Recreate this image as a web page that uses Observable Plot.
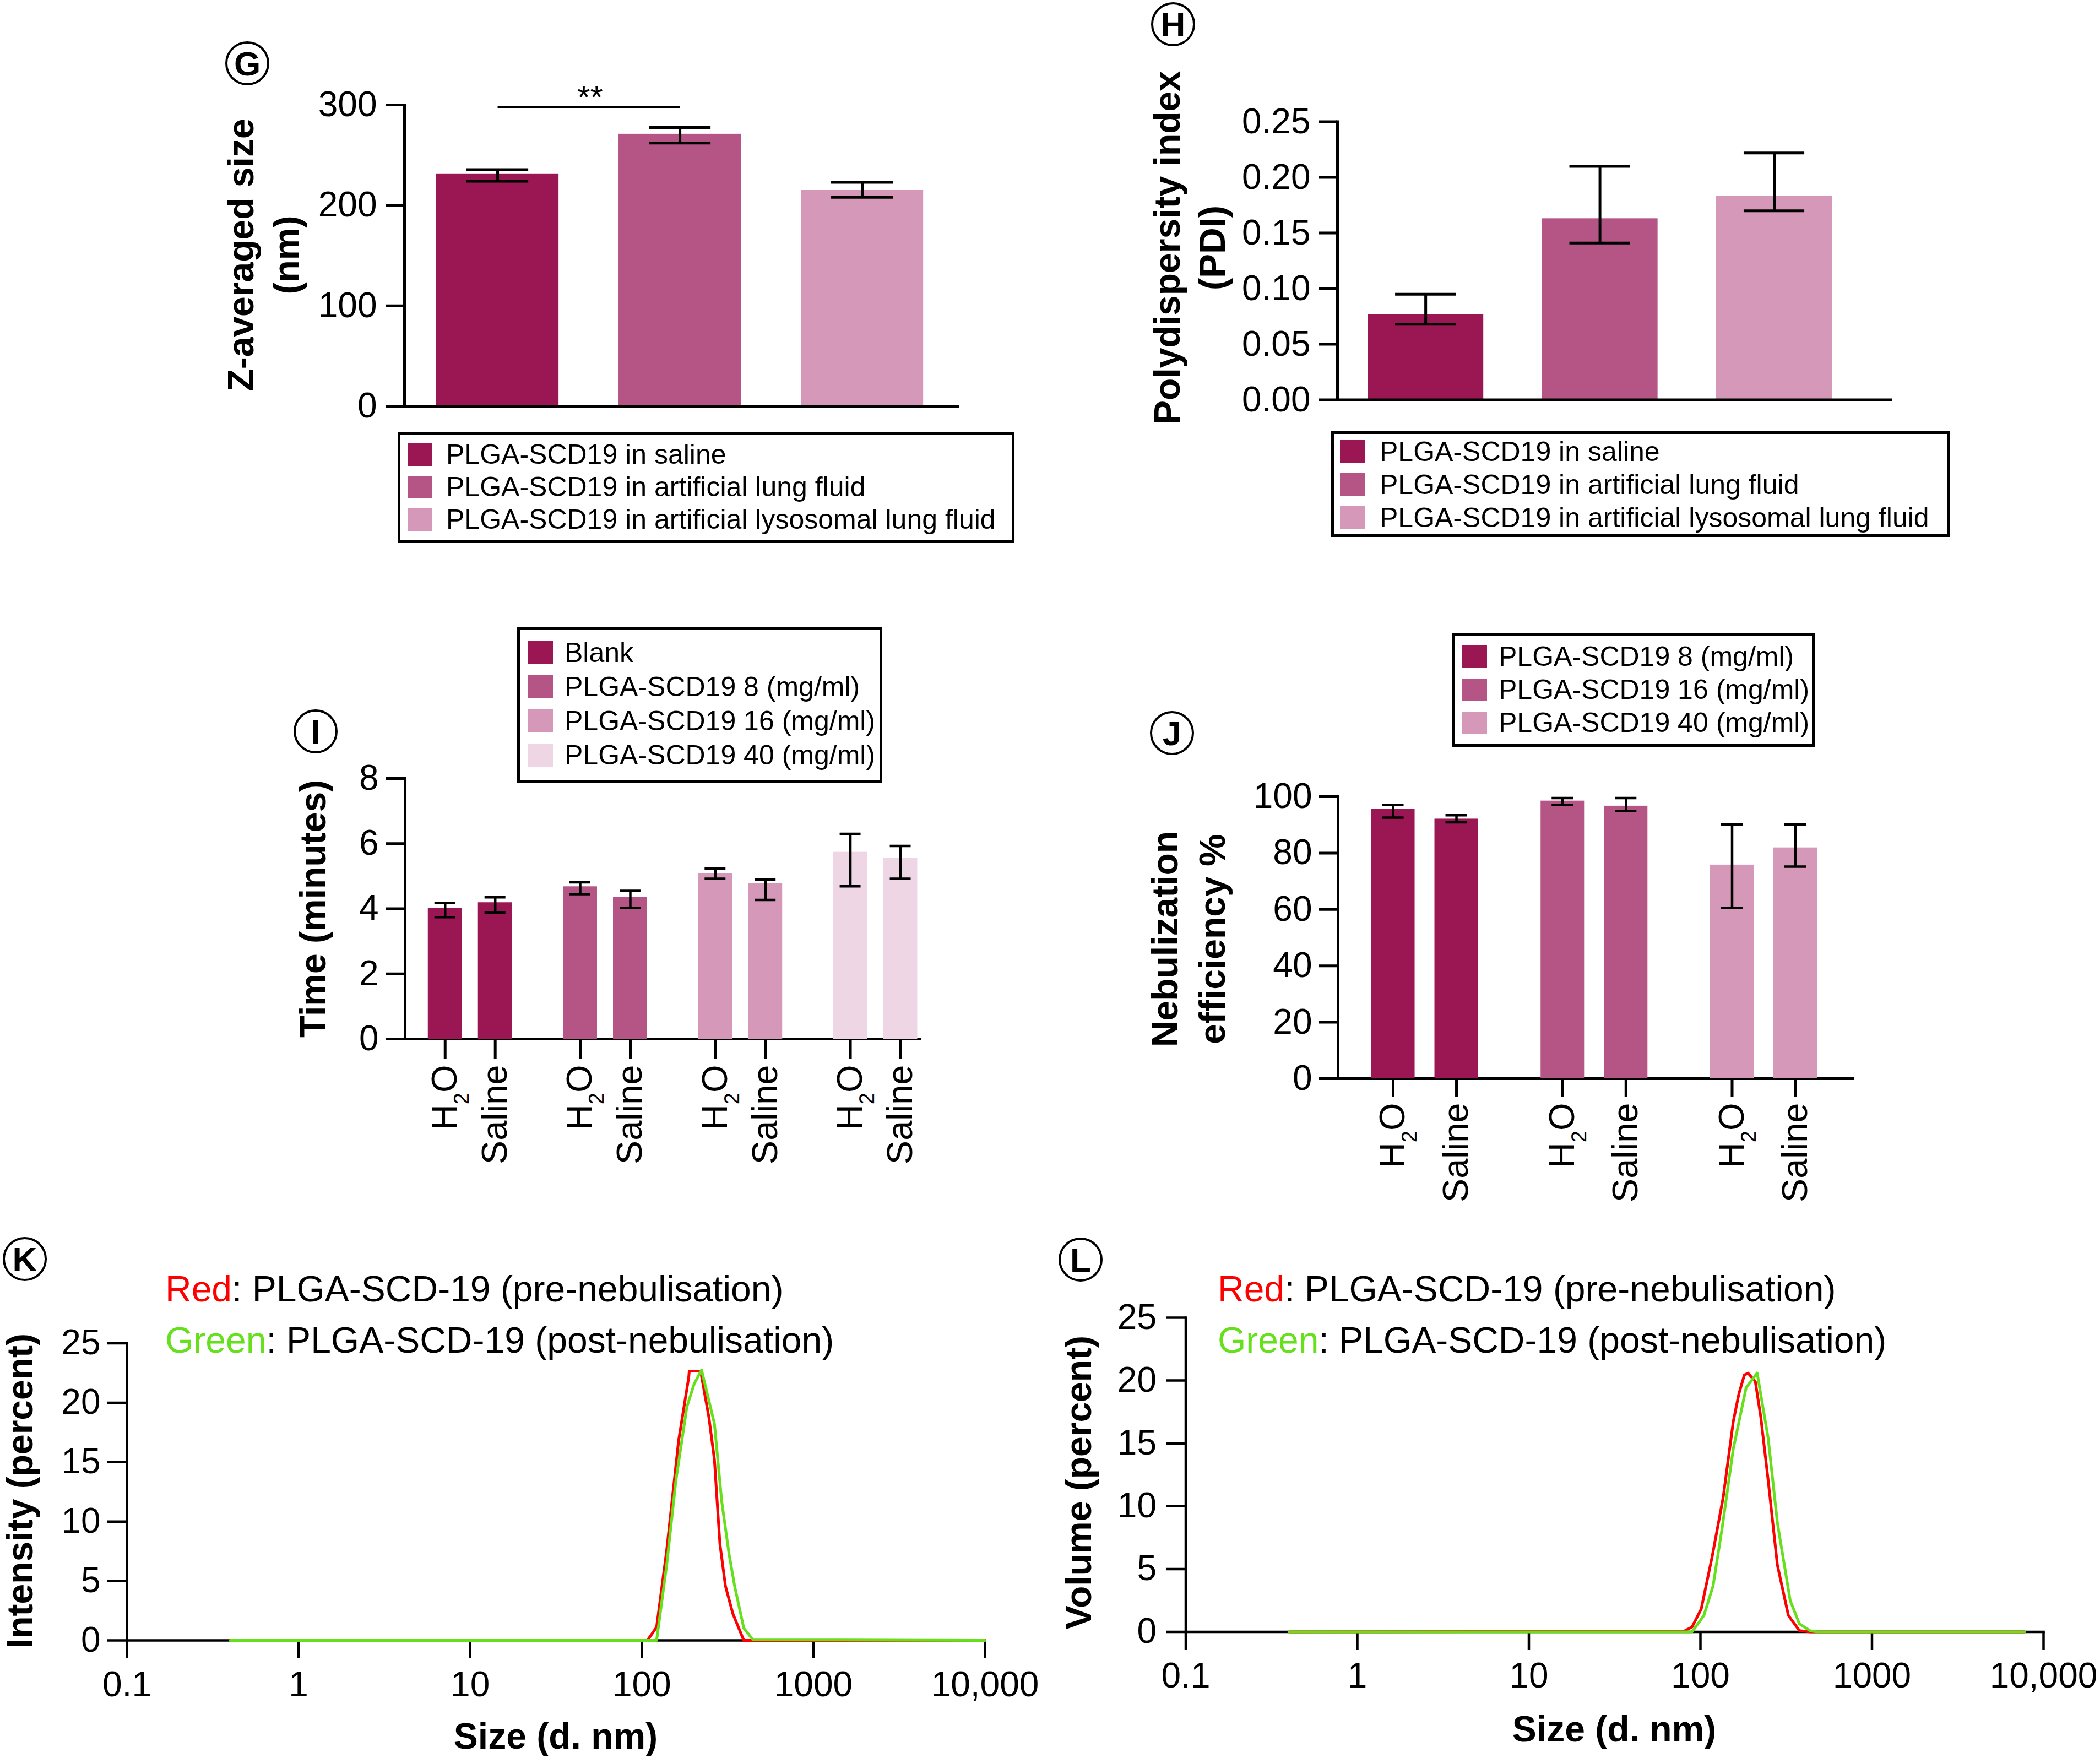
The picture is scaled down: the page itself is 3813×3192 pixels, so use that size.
<!DOCTYPE html>
<html>
<head>
<meta charset="utf-8">
<script src="https://cdn.jsdelivr.net/npm/d3@7"></script>
<script src="https://cdn.jsdelivr.net/npm/@observablehq/plot@0.6"></script>
<style>
html,body{margin:0;padding:0;background:#fff;overflow:hidden;}
#fig{position:relative;width:3813px;height:3192px;overflow:hidden;background:#fff;font-family:"Liberation Sans",Arial,Helvetica,sans-serif;color:#000;}
#fig svg{overflow:visible;}
.tag{position:absolute;box-sizing:border-box;border:4px solid #000;border-radius:50%;display:flex;align-items:center;justify-content:center;font-weight:bold;background:#fff;}
.legend{position:absolute;box-sizing:border-box;border:5px solid #000;background:#fff;}
.legend .row{position:absolute;display:flex;align-items:center;white-space:nowrap;}
.legend .sw{display:inline-block;flex:none;}
.title{position:absolute;font-weight:bold;white-space:nowrap;text-align:center;}
.note{position:absolute;white-space:nowrap;}
</style>
</head>
<body>
<div id="fig"></div>
<script>
// ---------------- data ----------------
const fluidGroups = ["PLGA-SCD19 in saline", "PLGA-SCD19 in artificial lung fluid", "PLGA-SCD19 in artificial lysosomal lung fluid"];
const fluidColors = ["#9a1753", "#b45585", "#d598b8"];

const zSizeMean = [231, 271, 215];
const zSizeLow = [224, 262, 208];
const zSizeHigh = [235.5, 277.5, 223];
const zSizeTicks = [0, 100, 200, 300];
const zSizeSig = [{from: fluidGroups[0], to: fluidGroups[1], y: 298, label: "**"}];

const pdiMean = [0.077, 0.163, 0.183];
const pdiLow = [0.068, 0.141, 0.170];
const pdiHigh = [0.095, 0.210, 0.222];
const pdiTicks = [0, 0.05, 0.10, 0.15, 0.20, 0.25];

const media = ["H2O", "Saline"];

const timeGroups = ["Blank", "PLGA-SCD19 8 (mg/ml)", "PLGA-SCD19 16 (mg/ml)", "PLGA-SCD19 40 (mg/ml)"];
const timeColors = ["#9a1753", "#b45585", "#d598b8", "#efd6e4"];
// order: for each group -> H2O, Saline
const timeMean = [4.01, 4.19, 4.68, 4.36, 5.09, 4.77, 5.74, 5.56];
const timeLow  = [3.74, 3.88, 4.45, 4.02, 4.92, 4.27, 4.69, 4.92];
const timeHigh = [4.18, 4.35, 4.81, 4.55, 5.24, 4.90, 6.30, 5.93];
const timeTicks = [0, 2, 4, 6, 8];

const nebGroups = ["PLGA-SCD19 8 (mg/ml)", "PLGA-SCD19 16 (mg/ml)", "PLGA-SCD19 40 (mg/ml)"];
const nebColors = ["#9a1753", "#b45585", "#d598b8"];
const nebMean = [95.6, 92.1, 98.5, 96.7, 75.8, 81.9];
const nebLow  = [92.6, 90.9, 97.0, 94.9, 60.6, 75.2];
const nebHigh = [97.1, 93.4, 99.5, 99.5, 90.1, 90.1];
const nebTicks = [0, 20, 40, 60, 80, 100];

const sizeTicks = [0.1, 1, 10, 100, 1000, 10000];
const sizeTickLabels = ["0.1", "1", "10", "100", "1000", "10,000"];
const pctTicks = [0, 5, 10, 15, 20, 25];

const intPreSize = [0.4, 107.8, 122.0, 139.7, 163.9, 187.7, 189.1, 220.3, 246.1, 265.0, 274.9, 285.3, 307.2, 339.0, 393.0, 10000];
const intPreVal  = [0, 0, 1.12, 7.59, 16.81, 22.13, 22.66, 22.66, 18.76, 15.22, 11.67, 8.12, 4.58, 2.27, 0, 0];
const intPostSize = [0.4, 122.0, 139.7, 158.0, 183.1, 202.1, 223.0, 265.0, 292.4, 322.7, 347.5, 393.0, 444.6, 10000];
const intPostVal  = [0, 0, 6.35, 13.44, 19.65, 21.6, 22.75, 18.23, 11.67, 7.24, 4.58, 1.03, 0.05, 0];

const volPreSize = [0.4, 79.9, 89.3, 101.0, 117.1, 135.7, 155.4, 167.4, 180.2, 189.3, 208.9, 224.9, 248.3, 280.8, 325.5, 377.5, 437.5, 7730];
const volPreVal  = [0, 0.05, 0.39, 1.81, 6.0, 10.7, 16.74, 18.92, 20.43, 20.59, 19.92, 17.07, 12.04, 5.33, 1.31, 0.1, 0, 0];
const volPostSize = [0.4, 89.3, 104.8, 118.5, 134.1, 155.4, 184.6, 214.1, 248.3, 280.8, 333.8, 377.5, 437.5, 483.0, 7730];
const volPostVal  = [0, 0, 1.31, 3.66, 8.35, 14.56, 19.42, 20.6, 15.4, 8.69, 2.48, 0.64, 0.08, 0, 0];

const preColor = "#ff0000";
const postColor = "#66e01c";

// ---------------- helpers ----------------
const FONT = '"Liberation Sans", Arial, Helvetica, sans-serif';
const fig = document.getElementById("fig");
const baseStyle = {fontFamily: FONT, fontSize: "64px", color: "#000", background: "transparent", overflow: "visible"};

function put(node, left, top) {
  node.style.position = "absolute";
  node.style.left = left + "px";
  node.style.top = top + "px";
  fig.appendChild(node);
  return node;
}
function dims(b) {
  return {width: b.width, height: b.height, marginLeft: b.ml, marginRight: b.mr, marginTop: b.mt, marginBottom: b.mb, style: baseStyle};
}
function subscriptH2O(svg) {
  svg.querySelectorAll("text").forEach(t => {
    if (t.textContent === "H2O") {
      t.innerHTML = 'H<tspan dy="22" font-size="38">2</tspan><tspan dy="-22">O</tspan>';
    }
  });
}

function simpleBars(o) {
  const data = o.cats.map((c, i) => ({cat: c, mean: o.mean[i], lo: o.lo[i], hi: o.hi[i]}));
  const svg = Plot.plot({
    ...dims(o.box),
    x: {domain: o.cats, ...o.band, round: false, axis: null},
    y: {domain: o.domain, axis: null},
    color: {domain: o.cats, range: o.colors},
    marks: [
      Plot.barY(data, {x: "cat", y: "mean", fill: "cat"}),
      Plot.ruleX(data, {x: "cat", y1: "lo", y2: "hi", stroke: "#000", strokeWidth: 5}),
      Plot.tickY(data, {x: "cat", y: "lo", stroke: "#000", strokeWidth: 5, insetLeft: o.capInset, insetRight: o.capInset}),
      Plot.tickY(data, {x: "cat", y: "hi", stroke: "#000", strokeWidth: 5, insetLeft: o.capInset, insetRight: o.capInset}),
      Plot.axisY({ticks: o.ticks, tickFormat: o.tickFormat, tickSize: o.tickSize, tickPadding: o.tickPadding, fontSize: 64, strokeWidth: 5, label: null}),
      Plot.frame({anchor: "left", strokeWidth: 5}),
      Plot.frame({anchor: "bottom", strokeWidth: 5}),
      ...(o.extra || [])
    ]
  });
  put(svg, o.box.left, o.box.top);
}

function groupedBars(o) {
  const data = [];
  o.groups.forEach((g, gi) => media.forEach((m, mi) => {
    const k = gi * media.length + mi;
    data.push({group: g, medium: m, mean: o.mean[k], lo: o.lo[k], hi: o.hi[k]});
  }));
  const axes = Plot.plot({
    ...dims(o.box),
    y: {domain: o.domain},
    marks: [
      Plot.axisY({ticks: o.ticks, tickSize: o.yTick[0], tickPadding: o.yTick[1], fontSize: 64, strokeWidth: 5, label: null}),
      Plot.frame({anchor: "left", strokeWidth: 5}),
      Plot.frame({anchor: "bottom", strokeWidth: 5})
    ]
  });
  put(axes, o.box.left, o.box.top);
  const bars = Plot.plot({
    ...dims(o.box),
    facet: {data, x: "group", marginTop: 0, marginBottom: 0, marginLeft: 0, marginRight: 0},
    fx: {domain: o.groups, ...o.fxBand, round: false, axis: null, label: null},
    x: {domain: media, ...o.xBand, round: false},
    y: {domain: o.domain, axis: null},
    color: {domain: o.groups, range: o.colors},
    marks: [
      Plot.barY(data, {x: "medium", y: "mean", fill: "group"}),
      Plot.ruleX(data, {x: "medium", y1: "lo", y2: "hi", stroke: "#000", strokeWidth: 4.5}),
      Plot.tickY(data, {x: "medium", y: "lo", stroke: "#000", strokeWidth: 4.5, insetLeft: o.capInset, insetRight: o.capInset}),
      Plot.tickY(data, {x: "medium", y: "hi", stroke: "#000", strokeWidth: 4.5, insetLeft: o.capInset, insetRight: o.capInset}),
      Plot.axisX({tickSize: o.xTick[0], tickPadding: o.xTick[1], tickRotate: -90, fontSize: 65, strokeWidth: 5, label: null})
    ]
  });
  subscriptH2O(bars);
  put(bars, o.box.left, o.box.top);
}

function sizeChart(o) {
  const pre = o.preSize.map((s, i) => ({size: s, v: o.preVal[i]}));
  const post = o.postSize.map((s, i) => ({size: s, v: o.postVal[i]}));
  const svg = Plot.plot({
    ...dims(o.box),
    x: {type: "log", domain: [0.1, 10000]},
    y: {domain: [0, 25]},
    marks: [
      Plot.axisY({ticks: pctTicks, tickSize: o.yTick[0], tickPadding: o.yTick[1], fontSize: 64, strokeWidth: 4.5, label: null}),
      Plot.axisX({ticks: sizeTicks, tickFormat: d => sizeTickLabels[sizeTicks.indexOf(d)], tickSize: 33, tickPadding: o.xPad, fontSize: 64, strokeWidth: 4.5, label: null}),
      Plot.frame({anchor: "left", strokeWidth: 4.5}),
      Plot.frame({anchor: "bottom", strokeWidth: 4.5}),
      Plot.line(pre, {x: "size", y: "v", stroke: preColor, strokeWidth: 5}),
      Plot.line(post, {x: "size", y: "v", stroke: postColor, strokeWidth: 5})
    ]
  });
  put(svg, o.box.left, o.box.top);
}

function tag(letter, cx, cy) {
  const d = document.createElement("div");
  d.className = "tag";
  d.textContent = letter;
  d.style.width = "80px"; d.style.height = "80px"; d.style.fontSize = "62px";
  put(d, cx - 40, cy - 40);
}
function vtitle(lines, cx, cy, size, lh) {
  const d = document.createElement("div");
  d.className = "title";
  d.style.fontSize = size + "px";
  d.style.lineHeight = (lh || size * 1.2) + "px";
  lines.forEach((l, i) => { if (i) d.appendChild(document.createElement("br")); d.appendChild(document.createTextNode(l)); });
  put(d, cx, cy);
  d.style.transform = "translate(-50%,-50%) rotate(-90deg)";
}
function htitle(text, cx, cy, size) {
  const d = document.createElement("div");
  d.className = "title";
  d.style.fontSize = size + "px";
  d.style.lineHeight = size + "px";
  d.textContent = text;
  put(d, cx, cy - size / 2);
  d.style.transform = "translateX(-50%)";
}
function note(colorWord, color, rest, left, cy, size) {
  const d = document.createElement("div");
  d.className = "note";
  d.style.fontSize = size + "px";
  d.style.lineHeight = size + "px";
  const s = document.createElement("span");
  s.style.color = color; s.textContent = colorWord;
  d.appendChild(s);
  d.appendChild(document.createTextNode(rest));
  put(d, left, cy - size / 2);
}
function legend(c) {
  const box = document.createElement("div");
  box.className = "legend";
  box.style.width = c.width + "px"; box.style.height = c.height + "px";
  c.items.forEach((label, i) => {
    const row = document.createElement("div");
    row.className = "row";
    Object.assign(row.style, {left: c.swLeft + "px", top: (c.firstTop + i * c.pitch) + "px", height: c.swH + "px", fontSize: "50px", lineHeight: c.swH + "px"});
    const sw = document.createElement("span");
    sw.className = "sw";
    Object.assign(sw.style, {width: c.swW + "px", height: c.swH + "px", background: c.colors[i], marginRight: c.gap + "px"});
    const t = document.createElement("span");
    t.textContent = label;
    row.append(sw, t);
    box.appendChild(row);
  });
  put(box, c.left, c.top);
}

// ---------------- G ----------------
simpleBars({
  cats: fluidGroups, mean: zSizeMean, lo: zSizeLow, hi: zSizeHigh, colors: fluidColors,
  domain: [0, 300], ticks: zSizeTicks, tickSize: 34, tickPadding: 16, capInset: 55,
  band: {paddingInner: 0.329, paddingOuter: 0.181, align: 0.484},
  box: {left: 380, top: 100, width: 1378, height: 657, ml: 354, mr: 20, mt: 90, mb: 20},
  extra: [
    Plot.link(zSizeSig, {x1: "from", x2: "to", y1: "y", y2: "y", stroke: "#000", strokeWidth: 4}),
    Plot.text(zSizeSig, {x: "from", y: "y", text: "label", dx: 168, dy: -16, fontSize: 60})
  ]
});
legend({left: 722, top: 784, width: 1120, height: 202, swLeft: 13, firstTop: 16, pitch: 59, swW: 44, swH: 41, gap: 26, items: fluidGroups, colors: fluidColors});
tag("G", 449, 115);
vtitle(["Z-averaged size", "(nm)"], 479, 463, 66, 83);

// ---------------- H ----------------
simpleBars({
  cats: fluidGroups, mean: pdiMean, lo: pdiLow, hi: pdiHigh, colors: fluidColors,
  domain: [0, 0.25], ticks: pdiTicks, tickFormat: d3.format(".2f"), tickSize: 33, tickPadding: 16, capInset: 50,
  band: {paddingInner: 0.336, paddingOuter: 0.256, align: 0.34},
  box: {left: 2060, top: 100, width: 1393, height: 645.6, ml: 368, mr: 20, mt: 120.6, mb: 20}
});
legend({left: 2417, top: 783, width: 1124, height: 192, swLeft: 11, firstTop: 11, pitch: 60, swW: 46, swH: 42, gap: 26, items: fluidGroups, colors: fluidColors});
tag("H", 2130, 44);
vtitle(["Polydispersity index", "(PDI)"], 2160, 450, 66, 82);

// ---------------- I ----------------
groupedBars({
  groups: timeGroups, colors: timeColors, mean: timeMean, lo: timeLow, hi: timeHigh,
  domain: [0, 8], ticks: timeTicks, yTick: [35, 13], xTick: [36, 11], capInset: 12,
  fxBand: {paddingInner: 0.348, paddingOuter: 0.078, align: 1},
  xBand: {paddingInner: 0.319, paddingOuter: 0.0385, align: 0.5},
  box: {left: 500, top: 1300, width: 1189, height: 836, ml: 235, mr: 20, mt: 113, mb: 250}
});
legend({left: 939, top: 1138, width: 663, height: 283, swLeft: 14, firstTop: 21, pitch: 62, swW: 46, swH: 42, gap: 21, items: timeGroups, colors: timeColors});
tag("I", 573, 1328);
vtitle(["Time (minutes)"], 568, 1650, 66, 80);

// ---------------- J ----------------
groupedBars({
  groups: nebGroups, colors: nebColors, mean: nebMean, lo: nebLow, hi: nebHigh,
  domain: [0, 100], ticks: nebTicks, yTick: [34, 13], xTick: [34, 10], capInset: 20,
  fxBand: {paddingInner: 0.22, paddingOuter: 0.1275, align: 0.478},
  xBand: {paddingInner: 0.313, paddingOuter: 0.2, align: 0.5},
  box: {left: 2060, top: 1350, width: 1323, height: 858, ml: 369, mr: 20, mt: 96, mb: 250}
});
legend({left: 2637, top: 1149, width: 658, height: 207, swLeft: 13, firstTop: 18, pitch: 60, swW: 45, swH: 41, gap: 21, items: nebGroups, colors: nebColors});
tag("J", 2128, 1331);
vtitle(["Nebulization", "efficiency %"], 2158, 1705, 66, 86);

// ---------------- K ----------------
sizeChart({
  preSize: intPreSize, preVal: intPreVal, postSize: intPostSize, postVal: intPostVal,
  yTick: [36, 12], xPad: 23,
  box: {left: 0, top: 2380, width: 1818, height: 718, ml: 230, mr: 30, mt: 58.5, mb: 120}
});
tag("K", 45, 2286);
vtitle(["Intensity (percent)"], 36, 2707, 66, 80);
htitle("Size (d. nm)", 1009, 3152, 66);
note("Red", preColor, ": PLGA-SCD-19 (pre-nebulisation)", 300, 2340, 66);
note("Green", postColor, ": PLGA-SCD-19 (post-nebulisation)", 300, 2433, 66);

// ---------------- L ----------------
sizeChart({
  preSize: volPreSize, preVal: volPreVal, postSize: volPostSize, postVal: volPostVal,
  yTick: [35, 18], xPad: 23,
  box: {left: 1900, top: 2330, width: 1850, height: 752.5, ml: 252.5, mr: 40, mt: 62, mb: 120}
});
tag("L", 1962, 2287);
vtitle(["Volume (percent)"], 1958, 2692, 66, 80);
htitle("Size (d. nm)", 2931, 3139, 66);
note("Red", preColor, ": PLGA-SCD-19 (pre-nebulisation)", 2211, 2340, 66);
note("Green", postColor, ": PLGA-SCD-19 (post-nebulisation)", 2211, 2433, 66);
</script>
</body>
</html>
